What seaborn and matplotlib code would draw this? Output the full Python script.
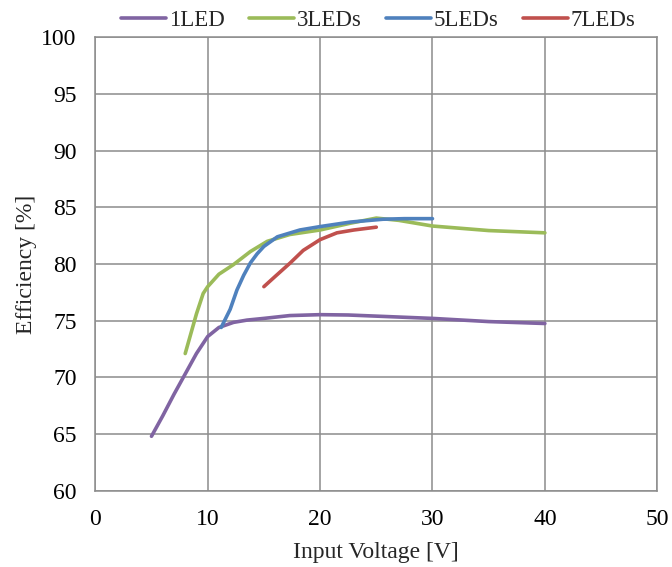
import matplotlib
matplotlib.use("Agg")
import matplotlib.pyplot as plt
import seaborn as sns
import pandas as pd

# Measured efficiency vs. input voltage for different LED string lengths
v_1led = [5.0, 6.0, 7.0, 8.0, 9.0, 10.0, 11.0, 12.3, 13.5, 15.0, 17.3, 20.0, 22.5, 25.0, 30.0, 35.0, 40.0]
e_1led = [64.8, 66.6, 68.5, 70.3, 72.1, 73.6, 74.4, 74.85, 75.05, 75.2, 75.45, 75.53, 75.5, 75.4, 75.2, 74.92, 74.75]

v_3led = [8.0, 8.6, 9.0, 9.6, 10.0, 11.0, 12.3, 13.8, 15.3, 17.3, 20.0, 22.7, 25.0, 27.0, 30.0, 35.0, 40.0]
e_3led = [72.1, 74.2, 75.6, 77.4, 78.0, 79.1, 79.95, 81.1, 82.0, 82.6, 83.0, 83.6, 84.05, 83.85, 83.35, 82.95, 82.75]

v_5led = [11.2, 12.0, 12.6, 13.2, 13.8, 14.4, 15.0, 16.2, 18.2, 20.0, 22.7, 25.6, 27.5, 30.0]
e_5led = [74.4, 76.0, 77.7, 79.0, 80.1, 80.9, 81.55, 82.4, 83.0, 83.3, 83.7, 83.95, 84.0, 84.0]

v_7led = [15.0, 16.0, 17.35, 18.5, 20.0, 21.5, 23.0, 25.0]
e_7led = [78.0, 78.9, 80.1, 81.2, 82.15, 82.75, 83.0, 83.25]

series_names = ["1LED", "3LEDs", "5LEDs", "7LEDs"]
series_colors = ["#8064A2", "#9BBB59", "#4F81BD", "#C0504D"]

x_ticks = [0, 10, 20, 30, 40, 50]
y_ticks = [60, 65, 70, 75, 80, 85, 90, 95, 100]

frames = []
for name, v, e in zip(series_names,
                      [v_1led, v_3led, v_5led, v_7led],
                      [e_1led, e_3led, e_5led, e_7led]):
    frames.append(pd.DataFrame({"voltage": v, "efficiency": e, "series": name}))
df = pd.concat(frames, ignore_index=True)

sns.set_theme(style="white")
plt.rcParams["font.family"] = ["Liberation Serif", "DejaVu Serif"]

fig = plt.figure(figsize=(6.72, 5.67), dpi=100)
ax = fig.add_axes([0.1418, 0.1346, 0.8363, 0.7996])

sns.lineplot(data=df, x="voltage", y="efficiency", hue="series",
             hue_order=series_names, palette=series_colors,
             sort=False, linewidth=2.6, ax=ax, legend=False)

ax.set_xlim(0, 50)
ax.set_ylim(60, 100)
ax.set_xticks(x_ticks)
ax.set_yticks(y_ticks)
ax.grid(True, color="#8C8C8C", linewidth=1.1)
ax.set_axisbelow(True)
for s in ax.spines.values():
    s.set_color("#8C8C8C")
    s.set_linewidth(1.1)
ax.tick_params(axis="both", length=0, labelsize=17, colors="black")
ax.tick_params(axis="y", pad=13.5)
ax.tick_params(axis="x", pad=13)
ax.set_xlabel("Input Voltage [V]", fontsize=17, labelpad=9)
ax.set_ylabel("Efficiency [%]", fontsize=17, labelpad=3)

handles = [plt.Line2D([], [], color=c, linewidth=2.6) for c in series_colors]
fig.legend(handles, series_names, loc="upper center", bbox_to_anchor=(0.563, 1.018),
           ncol=4, frameon=False, fontsize=16.5, handlelength=1.96,
           handletextpad=0.13, columnspacing=1.05)

fig.savefig("out.png", dpi=100)
